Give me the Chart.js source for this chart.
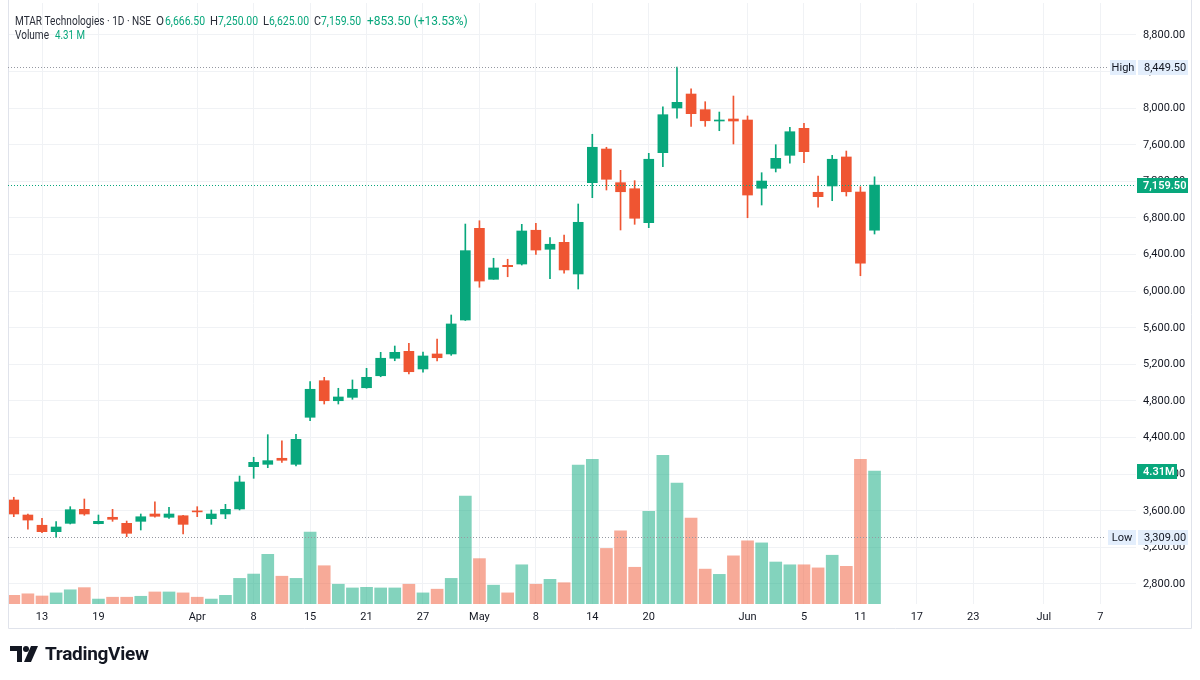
<!DOCTYPE html>
<html>
<head>
<meta charset="utf-8">
<title>MTAR Technologies · 1D · NSE</title>
<script src="https://cdn.jsdelivr.net/npm/chart.js@4.4.1/dist/chart.umd.min.js"></script>
<style>
  html, body { margin: 0; padding: 0; background: #fff; }
  #wrap { position: relative; width: 1200px; height: 680px; overflow: hidden; }
  #c { position: absolute; left: 0; top: 0; }
  #brand { position: absolute; left: 10px; top: 642px; display: flex; align-items: center; gap: 5px;
           font-family: Roboto, 'Noto Sans', sans-serif; font-weight: 700; font-size: 19px; color: #131722; letter-spacing: -0.3px; }
</style>
</head>
<body>
<div id="wrap">
  <canvas id="c" width="1200" height="680"></canvas>
  <div id="brand">
    <svg width="30" height="20" viewBox="0 0 30 20">
      <path d="M0 2h12v16h-5v-11h-7z" fill="#131722"/>
      <circle cx="16" cy="5" r="3" fill="#131722"/>
      <path d="M21 2h7l-7 16h-7z" fill="#131722"/>
    </svg>
    <span>TradingView</span>
  </div>
</div>
<script>
// daily candles, 11 Mar -> 12 Jun (one per trading day, index = x)
const opens  = [3718, 3554, 3442, 3372, 3463, 3616, 3459, 3529, 3463, 3485, 3565, 3529, 3546, 3592, 3514, 3565,
                3620, 4082, 4108, 4174, 4108, 4622, 5022, 4803, 4840, 4945, 5076, 5267, 5343, 5150, 5314, 5314,
                5685, 6687, 6130, 6283, 6297, 6666, 6458, 6534, 6188, 7186, 7554, 7186, 7120, 6749, 7514, 8002,
                8155, 7984, 7860, 7882, 7871, 7125, 7343, 7485, 7780, 7081, 7150, 7467, 7084, 6666.5];
const highs  = [3748, 3565, 3518, 3481, 3645, 3729, 3554, 3616, 3488, 3565, 3699, 3638, 3550, 3645, 3609, 3671,
                3980, 4185, 4432, 4366, 4436, 5011, 5059, 4939, 5030, 5157, 5332, 5401, 5431, 5335, 5478, 5740,
                6734, 6770, 6360, 6349, 6731, 6742, 6585, 6614, 6953, 7715, 7573, 7321, 7208, 7507, 8016, 8449.5,
                8213, 8071, 7958, 8133, 7915, 7295, 7601, 7791, 7835, 7259, 7485, 7532, 7142, 7250];
const lows   = [3536, 3398, 3361, 3309, 3456, 3551, 3456, 3485, 3317, 3390, 3529, 3518, 3346, 3536, 3452, 3514,
                3609, 3955, 4071, 4130, 4090, 4585, 4767, 4767, 4819, 4939, 5065, 5240, 5095, 5114, 5237, 5299,
                5680, 6043, 6130, 6158, 6286, 6403, 6137, 6196, 6024, 7022, 7106, 6669, 6731, 6694, 7361, 7890,
                7802, 7802, 7754, 7609, 6803, 6942, 7303, 7398, 7404, 6917, 6989, 7040, 6169, 6625];
const closes = [3565, 3499, 3372, 3423, 3612, 3565, 3485, 3507, 3354, 3535, 3540, 3565, 3452, 3588, 3565, 3616,
                3915, 4130, 4148, 4152, 4381, 4928, 4803, 4844, 4928, 5059, 5267, 5332, 5120, 5292, 5273, 5642,
                6443, 6111, 6254, 6268, 6658, 6450, 6513, 6232, 6753, 7573, 7223, 7087, 6797, 7442, 7929, 8064,
                7940, 7863, 7871, 7860, 7051, 7204, 7452, 7743, 7525, 7033, 7442, 7087, 6306, 7159.5];
// volume in millions
const volumes = [0.28, 0.33, 0.26, 0.36, 0.46, 0.53, 0.16, 0.22, 0.22, 0.25, 0.39, 0.39, 0.36, 0.22, 0.16, 0.28,
                 0.83, 0.97, 1.61, 0.90, 0.83, 2.33, 1.24, 0.64, 0.52, 0.54, 0.52, 0.52, 0.64, 0.36, 0.48, 0.83,
                 3.50, 1.47, 0.61, 0.36, 1.27, 0.64, 0.80, 0.69, 4.50, 4.69, 1.80, 2.37, 1.19, 3.00, 4.82, 3.92,
                 2.78, 1.13, 0.96, 1.56, 2.05, 1.98, 1.36, 1.27, 1.27, 1.17, 1.58, 1.22, 4.69, 4.31];

const xTickIdx    = [2, 6, 13, 17, 21, 25, 29, 33, 37, 41, 45, 52, 56, 60, 64, 68, 73, 77];
const xTickLabels = ['13', '19', 'Apr', '8', '15', '21', '27', 'May', '8', '14', '20', 'Jun', '5', '11', '17', '23', 'Jul', '7'];
const priceTicks  = [2800, 3200, 3600, 4000, 4400, 4800, 5200, 5600, 6000, 6400, 6800, 7200, 7600, 8000, 8400, 8800];

const hiPrice = 8449.5, loPrice = 3309.0;
const lastClose = 7159.5, lastVolume = 4.31;

const UP = '#08A77C', DOWN = '#EF5532';
const UP_VOL = 'rgba(8,167,124,0.5)', DOWN_VOL = 'rgba(239,85,50,0.5)';
const FONT = 'Roboto, "Noto Sans", sans-serif';

const isUp = opens.map((o, i) => closes[i] >= o);
const fmt = v => v.toLocaleString('en-US', { minimumFractionDigits: 2, maximumFractionDigits: 2 });

// 🧭 chart overlays: header, high/low/last lines, price-scale labels, frame
const overlay = {
    id: 'overlay',
    afterDraw(chart) {
        const { ctx, chartArea: a } = chart;
        const y = chart.scales.y, yv = chart.scales.yv;
        ctx.save();

        // frame
        ctx.strokeStyle = '#E0E3EB';
        ctx.lineWidth = 1;
        ctx.beginPath();
        ctx.moveTo(8.5, 0); ctx.lineTo(8.5, 628.5); ctx.lineTo(1191.5, 628.5); ctx.lineTo(1191.5, 0);
        ctx.stroke();

        // dotted helper lines
        const dotted = (py, x1, x2, color) => {
            ctx.strokeStyle = color;
            ctx.setLineDash([1, 2]);
            ctx.beginPath();
            ctx.moveTo(x1, Math.round(py) + 0.5);
            ctx.lineTo(x2, Math.round(py) + 0.5);
            ctx.stroke();
            ctx.setLineDash([]);
        };
        dotted(y.getPixelForValue(hiPrice), a.left, 1108, '#9598A1');
        dotted(y.getPixelForValue(loPrice), a.left, 1106, '#9598A1');
        dotted(y.getPixelForValue(lastClose), a.left, a.right, UP);

        const box = (x, cy, w, bg, text, color, bold, align) => {
            ctx.fillStyle = bg;
            ctx.fillRect(x, Math.round(cy) - 7, w, 15);
            ctx.fillStyle = color;
            ctx.font = (bold ? '600 ' : '') + '11px ' + FONT;
            ctx.textBaseline = 'middle';
            ctx.textAlign = align || 'left';
            ctx.fillText(text, align === 'center' ? x + w / 2 : x + 6, Math.round(cy) + 1);
        };
        const hy = y.getPixelForValue(hiPrice), ly = y.getPixelForValue(loPrice);
        box(1110, hy, 26, '#E3EEFC', 'High', '#131722', false, 'center');
        box(1138, hy, 50, '#E3EEFC', fmt(hiPrice), '#131722');
        box(1108, ly, 28, '#E3EEFC', 'Low', '#131722', false, 'center');
        box(1138, ly, 50, '#E3EEFC', fmt(loPrice), '#131722');
        box(1137, y.getPixelForValue(lastClose), 51, UP, fmt(lastClose), '#fff', true);
        box(1137, yv.getPixelForValue(lastVolume), 40, UP, lastVolume + 'M', '#fff', true);

        // legend header
        ctx.textAlign = 'left';
        ctx.textBaseline = 'middle';
        ctx.font = '12px ' + FONT;
        const seg = (t, x, yy, w, color) => { ctx.fillStyle = color; ctx.fillText(t, x, yy, w); };
        const i = opens.length - 1;
        const chg = closes[i] - closes[i - 1];
        seg('MTAR Technologies · 1D · NSE', 15, 22, 136, '#2A2E39');
        seg('O', 156, 22, 8, '#2A2E39');  seg(fmt(opens[i]), 165, 22, 40, UP);
        seg('H', 210, 22, 8, '#2A2E39');  seg(fmt(highs[i]), 218, 22, 40, UP);
        seg('L', 263, 22, 6, '#2A2E39');  seg(fmt(lows[i]), 269, 22, 40, UP);
        seg('C', 314, 22, 7, '#2A2E39');  seg(fmt(closes[i]), 321, 22, 40, UP);
        seg('+' + fmt(chg) + ' (+' + (chg / closes[i - 1] * 100).toFixed(2) + '%)', 367, 22, 111, UP);
        seg('Volume', 15, 36, 34, '#2A2E39');
        seg(lastVolume + ' M', 55, 36, 30, UP);

        ctx.restore();
    }
};

const ctx = document.getElementById('c').getContext('2d');
new Chart(ctx, {
    type: 'bar',
    data: {
        datasets: [
            {
                label: 'Volume',
                yAxisID: 'yv',
                order: 3,
                data: volumes.map((v, i) => ({ x: i, y: v })),
                backgroundColor: isUp.map(u => u ? UP_VOL : DOWN_VOL),
                barThickness: 12
            },
            {
                label: 'Wick',
                yAxisID: 'y',
                order: 2,
                data: lows.map((l, i) => ({ x: i, y: [l, highs[i]] })),
                backgroundColor: isUp.map(u => u ? UP : DOWN),
                barThickness: 1
            },
            {
                label: 'Body',
                yAxisID: 'y',
                order: 1,
                data: opens.map((o, i) => ({ x: i, y: [o, closes[i]] })),
                backgroundColor: isUp.map(u => u ? UP : DOWN),
                barThickness: 10,
                minBarLength: 1
            }
        ]
    },
    options: {
        responsive: false,
        animation: false,
        events: [],
        layout: { padding: { left: 8, top: 3, right: 9, bottom: 52 } },
        datasets: { bar: { grouped: false, borderWidth: 0 } },
        plugins: { legend: { display: false }, tooltip: { enabled: false } },
        scales: {
            x: {
                type: 'linear',
                position: 'bottom',
                min: -0.41,
                max: 79.53,
                offset: false,
                grid: { color: '#F0F2F5', offset: false, drawTicks: false },
                border: { display: false },
                afterBuildTicks: s => { s.ticks = xTickIdx.map(v => ({ value: v })); },
                afterFit: s => { s.height = 24; s.paddingLeft = 0; s.paddingRight = 0; },
                ticks: {
                    autoSkip: false,
                    maxRotation: 0,
                    padding: 7,
                    color: '#131722',
                    font: { family: FONT, size: 11 },
                    callback: v => xTickLabels[xTickIdx.indexOf(v)]
                }
            },
            y: {
                type: 'linear',
                position: 'right',
                min: 2581.4,
                max: 9149.7,
                grid: { color: '#F0F2F5', drawTicks: false },
                border: { display: false },
                afterBuildTicks: s => { s.ticks = priceTicks.map(v => ({ value: v })); },
                afterFit: s => { s.width = 55; s.paddingTop = 0; s.paddingBottom = 0; },
                ticks: {
                    padding: 7,
                    color: '#131722',
                    font: { family: FONT, size: 11 },
                    callback: v => fmt(v)
                }
            },
            yv: {
                type: 'linear',
                display: false,
                min: 0,
                max: 19.47
            }
        }
    },
    plugins: [overlay]
});
</script>
</body>
</html>
